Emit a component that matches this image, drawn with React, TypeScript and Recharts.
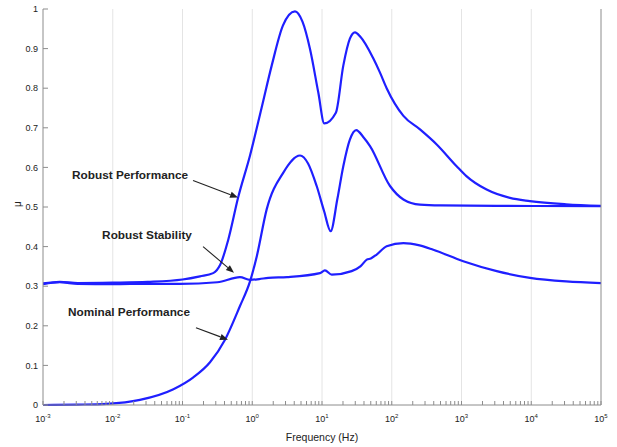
import React from 'react';
import { LineChart, Line, XAxis, YAxis, ReferenceLine, ReferenceDot } from 'recharts';

// Robust Performance
const rpFreq = [0.001, 0.00174, 0.00316, 0.01, 0.0316, 0.1, 0.178, 0.275, 0.347, 0.454, 0.63, 0.929, 1.36, 1.9, 2.75, 4.1, 5.25, 6.73, 8.85, 10.8, 15.8, 20.2, 25.1, 29.7, 35.5, 54.5, 67.6, 84.5, 147, 254, 441, 851, 1175, 2290, 4950, 9550, 31600, 100000];
const rpMu = [0.307, 0.311, 0.308, 0.309, 0.311, 0.317, 0.325, 0.333, 0.354, 0.418, 0.525, 0.63, 0.75, 0.857, 0.958, 0.994, 0.968, 0.899, 0.789, 0.711, 0.738, 0.857, 0.925, 0.941, 0.93, 0.875, 0.84, 0.8, 0.73, 0.696, 0.658, 0.603, 0.578, 0.544, 0.523, 0.515, 0.507, 0.503];

// Nominal Performance
const npFreq = [0.001, 0.00316, 0.00813, 0.0245, 0.0741, 0.143, 0.248, 0.407, 0.667, 0.929, 1.16, 1.61, 2.79, 4.84, 6.31, 8.39, 10.7, 13.3, 16.6, 20.2, 25.1, 30.9, 39.8, 48.8, 94.4, 147, 254, 501, 3160, 100000];
const npMu = [0.0, 0.001, 0.003, 0.013, 0.04, 0.07, 0.108, 0.165, 0.25, 0.312, 0.375, 0.494, 0.587, 0.63, 0.61, 0.553, 0.49, 0.439, 0.52, 0.603, 0.67, 0.694, 0.675, 0.654, 0.553, 0.519, 0.506, 0.504, 0.503, 0.502];

// Robust Stability
const rsFreq = [0.001, 0.00174, 0.00316, 0.01, 0.0316, 0.092, 0.316, 0.667, 0.929, 1.26, 1.7, 3.16, 9.35, 11.0, 13.8, 26.6, 35.5, 43.8, 50.1, 60.8, 84.5, 147, 251, 394, 1060, 3200, 9600, 31600, 100000];
const rsMu = [0.305, 0.31, 0.306, 0.305, 0.306, 0.306, 0.31, 0.323, 0.316, 0.318, 0.321, 0.323, 0.333, 0.34, 0.329, 0.338, 0.35, 0.367, 0.37, 0.38, 0.401, 0.409, 0.403, 0.392, 0.363, 0.338, 0.321, 0.312, 0.308];

// Axes
const xDecades = [0.001, 0.01, 0.1, 1, 10, 100, 1000, 10000, 100000];
const xExponents = ['-3', '-2', '-1', '0', '1', '2', '3', '4', '5'];
const yTicks = [0, 0.1, 0.2, 0.3, 0.4, 0.5, 0.6, 0.7, 0.8, 0.9, 1];
const yTickLabels = ['0', '0.1', '0.2', '0.3', '0.4', '0.5', '0.6', '0.7', '0.8', '0.9', '1'];
const minorMultipliers = [2, 3, 4, 5, 6, 7, 8, 9];

// Annotations
const annoText = ['Robust Performance', 'Robust Stability', 'Nominal Performance'];
const annoTextF = [0.0177, 0.031, 0.0171];
const annoTextMu = [0.582, 0.43, 0.235];
const arrowFromF = [0.1416, 0.197, 0.156];
const arrowFromMu = [0.567, 0.4, 0.195];
const arrowToF = [0.625, 0.547, 0.449];
const arrowToMu = [0.524, 0.334, 0.165];

const mk = (f: number[], m: number[]) => f.map((x, i) => ({ f: x, mu: m[i] }));
const rpData = mk(rpFreq, rpMu);
const npData = mk(npFreq, npMu);
const rsData = mk(rsFreq, rsMu);

const allXTicks: number[] = [];
xDecades.forEach((d, i) => {
  allXTicks.push(d);
  if (i < xDecades.length - 1) minorMultipliers.forEach((m) => allXTicks.push(d * m));
});

const FONT = '"Liberation Sans", Arial, Helvetica, sans-serif';
const LINE = '#1f1fff';
const AXIS = '#8c8c8c';

const XTick = (props: any) => {
  const { x, y, payload } = props;
  const idx = xDecades.findIndex((d) => Math.abs(d - payload.value) / d < 1e-6);
  if (idx < 0) return <g />;
  return (
    <text x={x} y={y} fontFamily={FONT} fontSize={9} fill="#222" textAnchor="middle" dy="0.71em">
      <tspan>10</tspan>
      <tspan dy={-4} fontSize={6}>{xExponents[idx]}</tspan>
    </text>
  );
};

const Arrow = (props: any) => {
  const { x1, y1, x2, y2 } = props;
  const dx = x2 - x1;
  const dy = y2 - y1;
  const len = Math.sqrt(dx * dx + dy * dy) || 1;
  const ux = dx / len;
  const uy = dy / len;
  const hl = 8;
  const hw = 3.2;
  const bx = x2 - ux * hl;
  const by = y2 - uy * hl;
  const pts = `${x2},${y2} ${bx - uy * hw},${by + ux * hw} ${bx + uy * hw},${by - ux * hw}`;
  return (
    <g>
      <line x1={x1} y1={y1} x2={bx} y2={by} stroke="#222" strokeWidth={1.1} />
      <polygon points={pts} fill="#222" />
    </g>
  );
};

export default function App() {
  return (
    <div style={{ position: 'absolute', left: 0, top: 0, width: 617, height: 447, background: '#fff' }}>
      <LineChart width={617} height={447} margin={{ top: 9, right: 0, left: 0, bottom: 0 }}>
        <XAxis
          dataKey="f"
          type="number"
          scale="log"
          domain={[0.001, 100000]}
          allowDataOverflow
          ticks={allXTicks}
          interval={0}
          tick={<XTick />}
          tickSize={-4}
          tickMargin={15}
          stroke={AXIS}
          height={42}
          label={{ value: 'Frequency (Hz)', position: 'insideBottom', offset: 6, fontSize: 10.5, fontFamily: FONT, fill: '#222' }}
        />
        <XAxis
          xAxisId="top"
          orientation="top"
          dataKey="f"
          type="number"
          scale="log"
          domain={[0.001, 100000]}
          allowDataOverflow
          ticks={allXTicks}
          interval={0}
          tick={false}
          tickSize={-4}
          stroke={AXIS}
          height={0}
        />
        <YAxis
          type="number"
          domain={[0, 1]}
          ticks={yTicks}
          interval={0}
          tickFormatter={(v: number) => yTickLabels[yTicks.findIndex((t) => Math.abs(t - v) < 1e-9)]}
          tick={{ fontSize: 9, fontFamily: FONT, fill: '#222' }}
          tickSize={-5}
          tickMargin={10}
          stroke={AXIS}
          width={43}
          label={{ value: 'μ', angle: -90, position: 'insideLeft', offset: 17, fontSize: 10, fontFamily: FONT, fill: '#222' }}
        />
        <YAxis
          yAxisId="right"
          orientation="right"
          type="number"
          domain={[0, 1]}
          ticks={yTicks}
          interval={0}
          tick={false}
          tickSize={-5}
          stroke={AXIS}
          width={16}
        />
        {xDecades.slice(1, -1).map((d) => (
          <ReferenceLine key={'g' + d} x={d} stroke="#e4e4e4" strokeWidth={1} />
        ))}
        <Line data={rpData} dataKey="mu" type="monotone" stroke={LINE} strokeWidth={2.2} dot={false} isAnimationActive={false} />
        <Line data={npData} dataKey="mu" type="monotone" stroke={LINE} strokeWidth={2.2} dot={false} isAnimationActive={false} />
        <Line data={rsData} dataKey="mu" type="monotone" stroke={LINE} strokeWidth={2.2} dot={false} isAnimationActive={false} />
        {annoText.map((t, i) => (
          <ReferenceLine
            key={'a' + i}
            segment={[{ x: arrowFromF[i], y: arrowFromMu[i] }, { x: arrowToF[i], y: arrowToMu[i] }]}
            shape={(p: any) => <Arrow {...p} />}
          />
        ))}
        {annoText.map((t, i) => (
          <ReferenceDot
            key={'t' + i}
            x={annoTextF[i]}
            y={annoTextMu[i]}
            r={0}
            shape={(p: any) => (
              <text x={p.cx} y={p.cy} dy="0.35em" textAnchor="middle" fontFamily={FONT} fontWeight="bold" fontSize={11.8} fill="#222">
                {t}
              </text>
            )}
          />
        ))}
      </LineChart>
    </div>
  );
}
